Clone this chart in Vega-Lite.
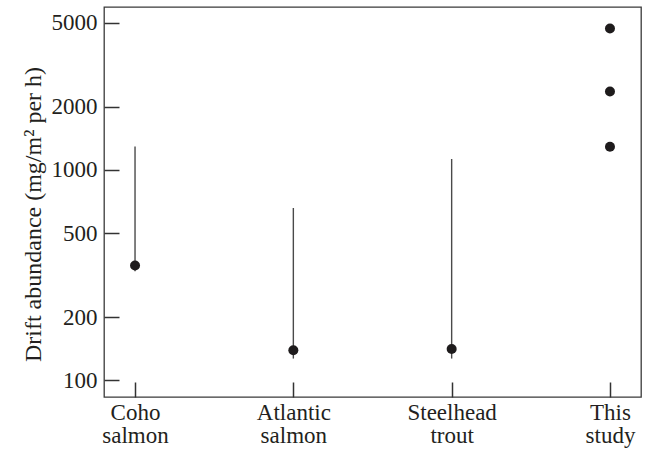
{
  "$schema": "https://vega.github.io/schema/vega-lite/v6.json",
  "width": 537,
  "height": 390,
  "autosize": {"type": "none"},
  "padding": {"left": 104, "top": 7, "right": 7, "bottom": 53},
  "background": "white",
  "config": {
    "font": "Liberation Serif",
    "view": {"stroke": "#3a3a3a", "strokeWidth": 1.3},
    "axis": {
      "labelFont": "Liberation Serif",
      "titleFont": "Liberation Serif",
      "labelFontSize": 23,
      "titleFontSize": 24,
      "labelColor": "#231f20",
      "titleColor": "#231f20",
      "titleFontWeight": "normal",
      "tickColor": "#333333",
      "tickWidth": 1.5,
      "tickSize": -15,
      "domain": false,
      "grid": false
    }
  },
  "data": {
    "values": [
      {"group": "Coho salmon", "value": 352, "low": 330, "high": 1295},
      {"group": "Atlantic salmon", "value": 139, "low": 127, "high": 660},
      {"group": "Steelhead trout", "value": 141, "low": 127, "high": 1128},
      {"group": "This study", "value": 4700, "low": null, "high": null},
      {"group": "This study", "value": 2360, "low": null, "high": null},
      {"group": "This study", "value": 1290, "low": null, "high": null}
    ]
  },
  "encoding": {
    "x": {
      "field": "group",
      "type": "nominal",
      "sort": null,
      "scale": {"type": "point", "padding": 0.196},
      "axis": {
        "title": null,
        "labelAngle": 0,
        "labelPadding": 19,
        "labelLineHeight": 23,
        "labelExpr": "split(datum.label, ' ')"
      }
    }
  },
  "layer": [
    {
      "mark": {"type": "rule", "color": "#4a4a4a", "strokeWidth": 1.4},
      "encoding": {
        "y": {
          "field": "low",
          "type": "quantitative",
          "scale": {"type": "log", "domain": [83.4, 5952], "nice": false, "zero": false},
          "axis": {
            "title": "Drift abundance (mg/m² per h)",
            "values": [100, 200, 500, 1000, 2000, 5000],
            "format": "d",
            "ticks": true,
            "zindex": 1,
            "labelPadding": 22,
            "titlePadding": 6,
            "titleY": 207
          }
        },
        "y2": {"field": "high"}
      }
    },
    {
      "mark": {"type": "point", "filled": true, "color": "#1e1b1c", "opacity": 1, "size": 100},
      "encoding": {
        "y": {"field": "value", "type": "quantitative"}
      }
    }
  ]
}
